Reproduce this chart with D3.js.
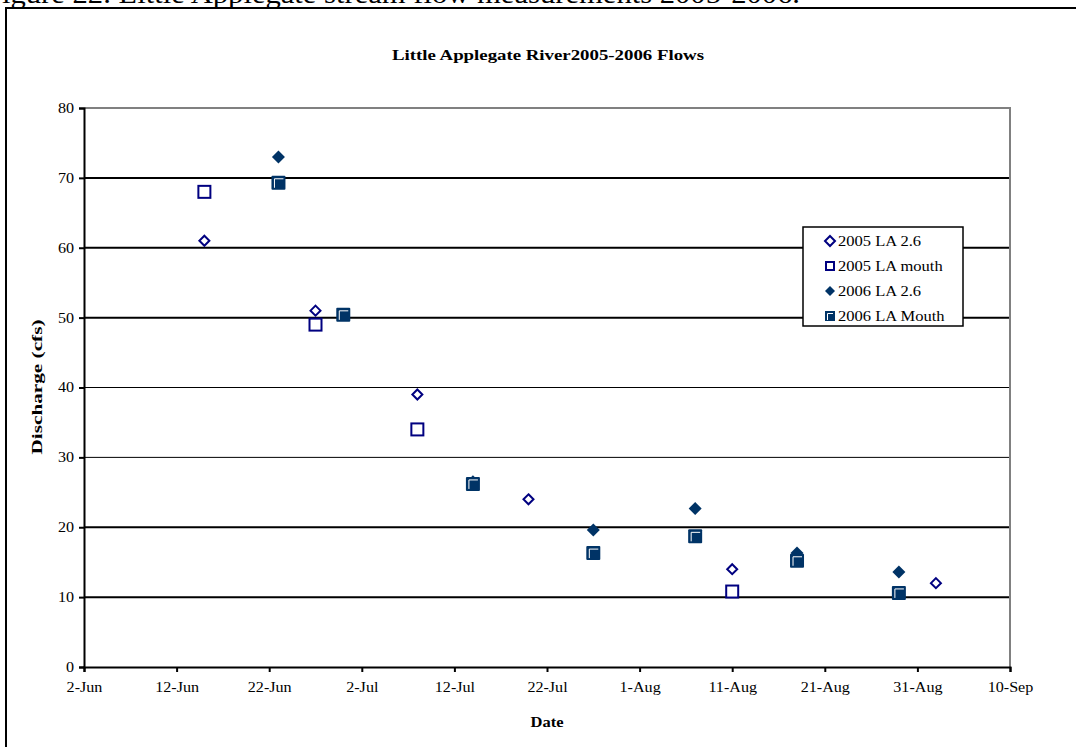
<!DOCTYPE html>
<meta charset="utf-8">
<script src="https://d3js.org/d3.v7.min.js"></script>
<style>
  body { margin: 0; background: #fff; }
  svg text { font-family: "Liberation Serif", "Times New Roman", serif; }
</style>
<div id="chart"></div>
<script>
// data (month-day, plotted on one common season axis)
var dates05a = ["06-15", "06-27", "07-08", "07-20", "08-11", "09-02"];
var vals05a  = [61, 51, 39, 24, 14, 12];

var dates05m = ["06-15", "06-27", "07-08", "08-11"];
var vals05m  = [68, 49, 34, 10.8];

var dates06a = ["06-23", "07-14", "07-27", "08-07", "08-18", "08-29"];
var vals06a  = [73, 26.5, 19.6, 22.7, 16.3, 13.6];

var dates06m = ["06-23", "06-30", "07-14", "07-27", "08-07", "08-18", "08-29"];
var vals06m  = [69.3, 50.4, 26.2, 16.3, 18.7, 15.2, 10.6];

var yTicks = [0, 10, 20, 30, 40, 50, 60, 70, 80];
var xTickDates = ["06-02", "06-12", "06-22", "07-02", "07-12", "07-22", "08-01", "08-11", "08-21", "08-31", "09-10"];
var legendNames = ["2005 LA 2.6", "2005 LA mouth", "2006 LA 2.6", "2006 LA Mouth"];

var parse = function(s) { return d3.timeParse("%Y-%m-%d")("2006-" + s); };
var fmt = d3.timeFormat("%-d-%b");

// the source renders its Times text wider than normal; widen glyphs to match
function widen(sel, f) {
  sel.each(function() {
    var L = this.getComputedTextLength();
    d3.select(this).attr("textLength", L * f).attr("lengthAdjust", "spacingAndGlyphs");
  });
}

var W = 1076, H = 747;
var svg = d3.select("#chart").append("svg").attr("width", W).attr("height", H);

// page caption (cut off at top) and figure frame
svg.append("text").attr("x", -15).attr("y", 3)
  .attr("font-size", "27px").attr("textLength", 815).attr("lengthAdjust", "spacingAndGlyphs")
  .text("Figure 22.  Little Applegate stream flow measurements 2005-2006.");
svg.append("path").attr("d", "M6,747 V8 H1076")
  .attr("fill", "none").attr("stroke", "#000").attr("stroke-width", 2);

var x = d3.scaleTime().domain([parse("06-02"), parse("09-10")]).range([84, 1010]);
var y = d3.scaleLinear().domain([0, 80]).range([667, 108]);

// gridlines
var gridW = {10: 2, 20: 2, 30: 1, 40: 1, 50: 2, 60: 2, 70: 2};
svg.append("g").selectAll("line").data(yTicks.filter(function(d) { return d > 0 && d < 80; }))
  .enter().append("line")
  .attr("x1", 84).attr("x2", 1010)
  .attr("y1", function(d) { return y(d); }).attr("y2", function(d) { return y(d); })
  .attr("stroke", "#000").attr("stroke-width", function(d) { return gridW[d]; });

// plot area top/right border
svg.append("path").attr("d", "M84," + y(80) + " H1010 V" + y(0))
  .attr("fill", "none").attr("stroke", "#808080").attr("stroke-width", 2);

// axes
var yAxis = svg.append("g").attr("transform", "translate(84,0)")
  .call(d3.axisLeft(y).tickValues(yTicks).tickSize(5).tickPadding(5));
var xAxis = svg.append("g").attr("transform", "translate(0,667)")
  .call(d3.axisBottom(x).tickValues(xTickDates.map(parse)).tickFormat(fmt).tickSize(5).tickPadding(10));
[yAxis, xAxis].forEach(function(a) {
  a.select(".domain").attr("stroke", "#000").attr("stroke-width", 2);
  a.selectAll(".tick line").attr("stroke", "#000").attr("stroke-width", 2);
  a.selectAll("text").attr("font-size", "14px").attr("fill", "#000");
  widen(a.selectAll("text"), 1.15);
});

// titles
svg.append("text").attr("x", 548).attr("y", 60).attr("text-anchor", "middle")
  .attr("font-size", "14.5px").attr("font-weight", "bold")
  .attr("textLength", 312).attr("lengthAdjust", "spacingAndGlyphs")
  .text("Little Applegate River2005-2006 Flows");
svg.append("text").attr("x", 547).attr("y", 727).attr("text-anchor", "middle")
  .attr("font-size", "14.5px").attr("font-weight", "bold")
  .attr("textLength", 33).attr("lengthAdjust", "spacingAndGlyphs").text("Date");
svg.append("text").attr("transform", "translate(42,387) rotate(-90)").attr("text-anchor", "middle")
  .attr("font-size", "14.5px").attr("font-weight", "bold")
  .attr("textLength", 135).attr("lengthAdjust", "spacingAndGlyphs").text("Discharge (cfs)");

// marker drawers
var navy = "#000080", dark = "#003366";
function openDiamond(g, cx, cy) {
  g.append("path").attr("d", "M" + cx + "," + (cy - 5) + " l5,5 l-5,5 l-5,-5 z")
    .attr("fill", "#fff").attr("stroke", navy).attr("stroke-width", 2);
}
function openSquare(g, cx, cy) {
  g.append("rect").attr("x", cx - 6).attr("y", cy - 6).attr("width", 12).attr("height", 12)
    .attr("fill", "#fff").attr("stroke", navy).attr("stroke-width", 2);
}
function fullDiamond(g, cx, cy) {
  g.append("path").attr("d", "M" + cx + "," + (cy - 6.5) + " l6.5,6.5 l-6.5,6.5 l-6.5,-6.5 z")
    .attr("fill", dark);
}
function fullSquare(g, cx, cy) {
  g.append("rect").attr("x", cx - 7).attr("y", cy - 7).attr("width", 14).attr("height", 14)
    .attr("rx", 1).attr("fill", dark);
  g.append("path").attr("d", "M" + (cx - 4) + "," + (cy + 5) + " V" + (cy - 4) + " H" + (cx + 5))
    .attr("fill", "none").attr("stroke", "#fff").attr("stroke-width", 1);
}

var series = [
  {dates: dates05a, vals: vals05a, draw: openDiamond},
  {dates: dates05m, vals: vals05m, draw: openSquare},
  {dates: dates06a, vals: vals06a, draw: fullDiamond},
  {dates: dates06m, vals: vals06m, draw: fullSquare}
];
var marks = svg.append("g");
series.forEach(function(s) {
  s.dates.forEach(function(d, i) {
    s.draw(marks, x(parse(d)), y(s.vals[i]));
  });
});

// legend
var lg = svg.append("g");
lg.append("rect").attr("x", 803).attr("y", 227).attr("width", 160).attr("height", 99)
  .attr("fill", "#fff").attr("stroke", "#000").attr("stroke-width", 1.5);
legendNames.forEach(function(name, i) {
  var cy = 241 + i * 25;
  var g = lg.append("g");
  if (i === 0) openDiamond(g, 830, cy);
  if (i === 1) { g.append("rect").attr("x", 826).attr("y", cy - 4).attr("width", 8).attr("height", 8)
    .attr("fill", "#fff").attr("stroke", navy).attr("stroke-width", 2); }
  if (i === 2) { g.append("path").attr("d", "M830," + (cy - 5) + " l5,5 l-5,5 l-5,-5 z").attr("fill", dark); }
  if (i === 3) {
    g.append("rect").attr("x", 825).attr("y", cy - 5).attr("width", 10).attr("height", 10).attr("fill", dark);
    g.append("path").attr("d", "M827.5," + (cy + 4) + " V" + (cy - 2.5) + " H833").attr("fill", "none")
      .attr("stroke", "#fff").attr("stroke-width", 1);
  }
  var t = lg.append("text").attr("x", 838).attr("y", cy + 5).attr("font-size", "14.5px").text(name);
  widen(t, 1.14);
});
</script>
